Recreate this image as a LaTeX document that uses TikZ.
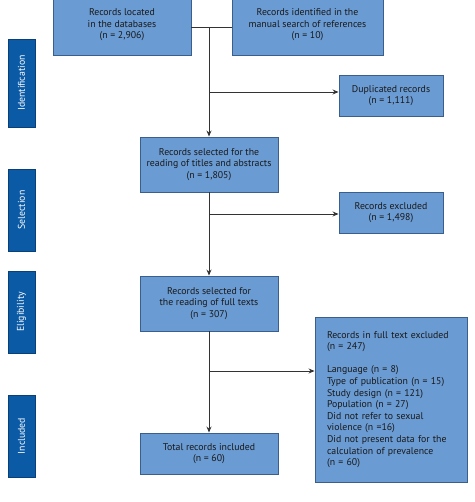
\documentclass[tikz,border=0pt]{standalone}
\usepackage{fontspec}
\setmainfont{PT Sans}
\usetikzlibrary{arrows.meta}
\definecolor{boxfill}{HTML}{6A9BD3}
\definecolor{boxline}{HTML}{3A5F8C}
\definecolor{barfill}{HTML}{0B5AA6}
\definecolor{barline}{HTML}{0A3F78}
\definecolor{linecol}{HTML}{333333}
\begin{document}
\begin{tikzpicture}[x=1pt,y=-1pt,
  every node/.style={font=\fontsize{9.8}{11.6}\selectfont},
  flowbox/.style={draw=boxline,fill=boxfill,line width=0.9pt,align=center,text=black!90,inner sep=0pt},
  phasebar/.style={draw=barline,fill=barfill,line width=0.8pt,text=white,rotate=90,inner sep=0pt,minimum height=27pt},
  conn/.style={draw=linecol,line width=0.9pt},
  arr/.style={conn,-{Stealth[length=6pt,width=5pt]}}]
\useasboundingbox (0,0) rectangle (474,502);
% phase bars
\node[phasebar,minimum width=88pt] (pid) at (21.5,83) {Identification};
\node[phasebar,minimum width=82pt] (psel) at (21.5,210) {Selection};
\node[phasebar,minimum width=82pt] (pel) at (21.5,312) {Eligibility};
\node[phasebar,minimum width=82pt] (pinc) at (21.5,436) {Included};
% boxes
\node[flowbox,minimum width=138pt,minimum height=60pt] (db) at (122,25) {Records located\\in the databases\\(n = 2,906)};
\node[flowbox,minimum width=151pt,minimum height=60pt] (man) at (307.5,25) {Records identified in the\\manual search of references\\(n = 10)};
\node[flowbox,minimum width=104pt,minimum height=41pt] (dup) at (391,95.5) {Duplicated records\\(n = 1,111)};
\node[flowbox,minimum width=138pt,minimum height=55pt] (sel) at (209,164.5) {Records selected for the\\reading of titles and abstracts\\(n = 1,805)};
\node[flowbox,minimum width=104pt,minimum height=41pt] (exc) at (391,212.5) {Records excluded\\(n = 1,498)};
\node[flowbox,minimum width=138pt,minimum height=55pt] (full) at (209,303.5) {Records selected for\\the reading of full texts\\(n = 307)};
\node[flowbox,minimum width=152pt,minimum height=165pt,align=left,text width=128pt,inner xsep=12pt] (excf) at (391,399.5) {Records in full text excluded\\(n = 247)\\[11.6pt]Language (n = 8)\\Type of publication (n = 15)\\Study design (n = 121)\\Population (n = 27)\\Did not refer to sexual\\violence (n =16)\\Did not present data for the\\calculation of prevalence\\(n = 60)};
\node[flowbox,minimum width=138pt,minimum height=41pt] (tot) at (209,453.5) {Total records included\\(n = 60)};
% connectors
\coordinate (j) at (209,27);
\coordinate (j1) at (209,92);
\coordinate (j2) at (209,214);
\coordinate (j3) at (209,371);
\draw[conn] (db.east |- j) -- (man.west |- j);
\draw[arr] (j) -- (sel.north);
\draw[arr] (j1) -- (dup.west |- j1);
\draw[arr] (sel.south) -- (full.north);
\draw[arr] (j2) -- (exc.west |- j2);
\draw[arr] (full.south) -- (tot.north);
\draw[arr] (j3) -- (excf.west |- j3);
\end{tikzpicture}
\end{document}
